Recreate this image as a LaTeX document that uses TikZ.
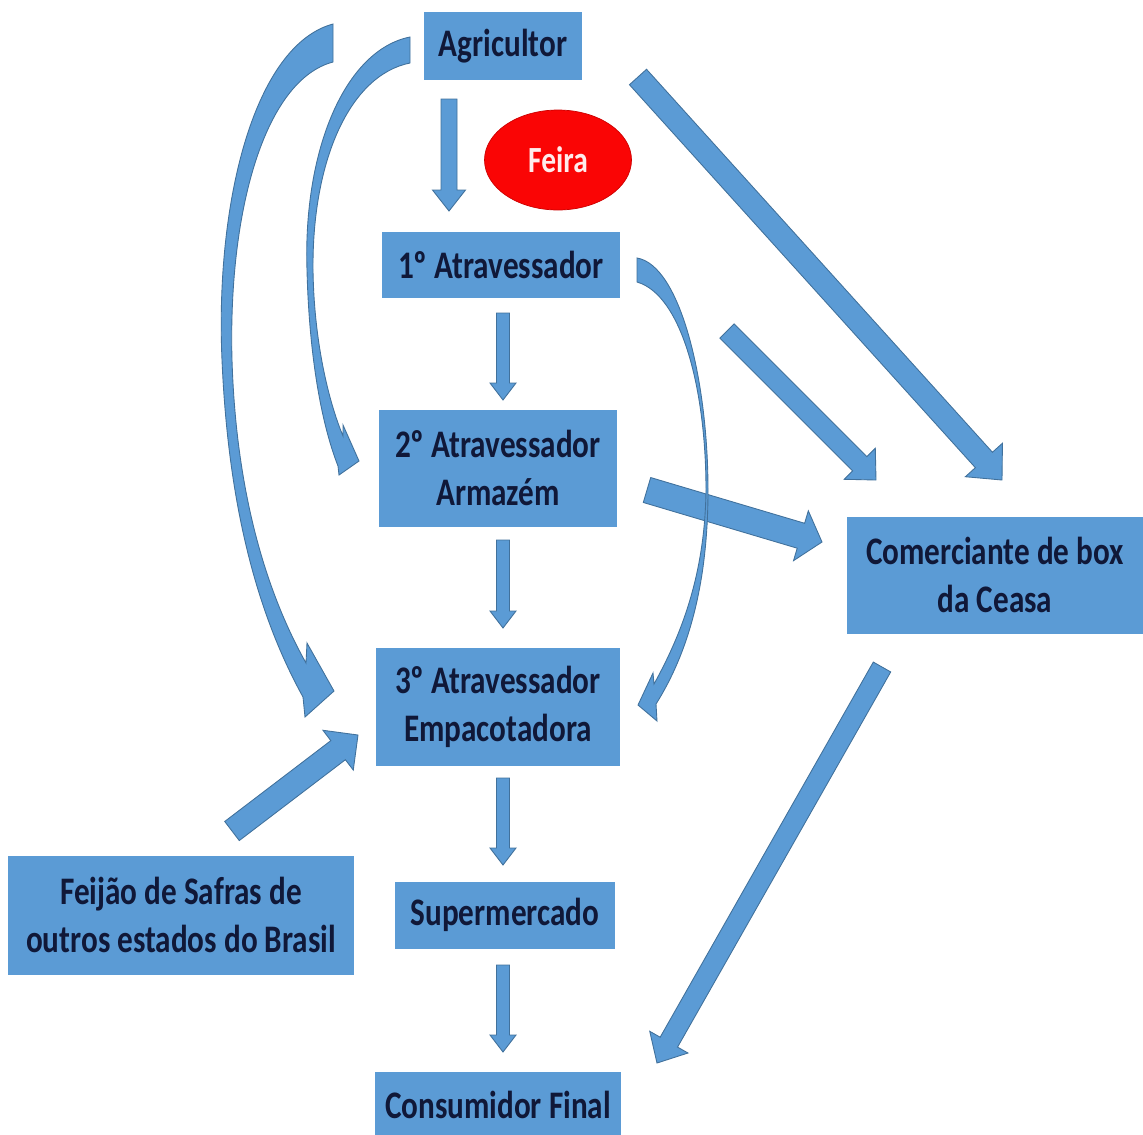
\documentclass[tikz,border=0pt]{standalone}
\usepackage{fontspec}
\setmainfont{Carlito}[FakeStretch=0.8]
\usetikzlibrary{calc,shapes.geometric}
\definecolor{boxblue}{RGB}{91,155,213}
\definecolor{edgeblue}{RGB}{65,113,156}
\definecolor{navy}{RGB}{16,24,56}
\definecolor{feirared}{RGB}{250,5,5}
\newcommand{\upx}{0.02cm}
\newcommand{\flowarrow}[5]{%
  \coordinate (hb) at ($(#2)!#5*\upx!(#1)$);
  \draw[flow] ($(#1)!#3*\upx!90:(#2)$) -- ($(hb)!#3*\upx!90:(#2)$) -- ($(hb)!#4*\upx!90:(#2)$) -- (#2)
    -- ($(hb)!#4*\upx!-90:(#2)$) -- ($(hb)!#3*\upx!-90:(#2)$) -- ($(#1)!#3*\upx!-90:(#2)$) -- cycle;}
\begin{document}
\begin{tikzpicture}[x=0.02cm,y=-0.02cm,
  box/.style={fill=boxblue,text=navy,align=center,inner sep=0pt,font=\bfseries\fontsize{22.2}{27.3}\selectfont},
  flow/.style={fill=boxblue,draw=edgeblue,line width=0.5pt,line join=miter}]
\useasboundingbox (0,0) rectangle (1143,1134);
\node[box,minimum width=3.16cm,minimum height=1.36cm] (agr) at (503,46) {Agricultor};
\node[ellipse,fill=feirared,draw=red!80!black,text=red!8,minimum width=2.94cm,minimum height=2cm,inner sep=0pt,font=\bfseries\fontsize{21}{25}\selectfont] (feira) at (558,160) {Feira};
\node[box,minimum width=4.76cm,minimum height=1.32cm] (at1) at (501,265) {1º Atravessador};
\node[box,minimum width=4.78cm,minimum height=2.34cm] (at2) at (498,468) {2º Atravessador\\Armazém};
\node[box,minimum width=5.94cm,minimum height=2.34cm] (ceasa) at (995,575) {Comerciante de box\\da Ceasa};
\node[box,minimum width=4.9cm,minimum height=2.36cm] (at3) at (498,707) {3º Atravessador\\Empacotadora};
\node[box,minimum width=6.94cm,minimum height=2.38cm] (feijao) at (181,915) {Feijão de Safras de\\outros estados do Brasil};
\node[box,minimum width=4.42cm,minimum height=1.34cm] (super) at (505,915) {Supermercado};
\node[box,minimum width=4.92cm,minimum height=1.32cm] (cons) at (498,1105) {Consumidor Final};
\coordinate (agr-s) at (449,99);
\coordinate (at1-e) at (449,211);
\coordinate (at1-s) at (503,313);
\coordinate (at2-e) at (503,400);
\coordinate (at2-s) at (503,540);
\coordinate (at3-e) at (503,628);
\coordinate (at3-s) at (503,778);
\coordinate (super-e) at (503,865);
\coordinate (super-s) at (503,965);
\coordinate (cons-e) at (503,1052);
\coordinate (agr-d) at (638,77);
\coordinate (ceasa-a) at (1002,480);
\coordinate (at1-d) at (727,331);
\coordinate (ceasa-b) at (876,480);
\coordinate (at2-d) at (647,490);
\coordinate (ceasa-c) at (822,542);
\coordinate (ceasa-d) at (882,667);
\coordinate (cons-d) at (657,1063);
\coordinate (feijao-d) at (232,831);
\coordinate (at3-f) at (358,735);
\flowarrow{agr-s}{at1-e}{8}{16.5}{21}
\flowarrow{at1-s}{at2-e}{6.5}{13}{17}
\flowarrow{at2-s}{at3-e}{6.5}{13}{17}
\flowarrow{at3-s}{super-e}{6.5}{13}{17}
\flowarrow{super-s}{cons-e}{6.5}{13}{17}
\flowarrow{agr-d}{ceasa-a}{11.5}{25}{27}
\flowarrow{at1-d}{ceasa-b}{10}{22}{23}
\flowarrow{at2-d}{ceasa-c}{13}{26}{22}
\flowarrow{ceasa-d}{cons-d}{10}{22}{24}
\flowarrow{feijao-d}{at3-f}{12}{25}{25}
\draw[flow] (333,24) .. controls (255,45) and (215,200) .. (222,360) .. controls (228,500) and (255,610) .. (303,697)
  -- (305,717) -- (334,691) -- (307,643) -- (306,663)
  .. controls (265,590) and (236,490) .. (232,360) .. controls (228,210) and (265,80) .. (333,62) -- cycle;
\draw[flow] (410,37) .. controls (345,50) and (303,150) .. (307,270) .. controls (309,350) and (320,420) .. (338,466)
  -- (339,475) -- (359,461) -- (343,425) -- (343,436)
  .. controls (328,400) and (314,340) .. (313,270) .. controls (312,160) and (350,75) .. (410,63) -- cycle;
\draw[flow] (637,258) .. controls (680,265) and (708,380) .. (708,490) .. controls (708,580) and (690,650) .. (656,704)
  -- (657,721) -- (638,705) -- (653,673) -- (654,684)
  .. controls (684,630) and (705,570) .. (706,490) .. controls (706,390) and (682,295) .. (637,282) -- cycle;
\end{tikzpicture}
\end{document}
